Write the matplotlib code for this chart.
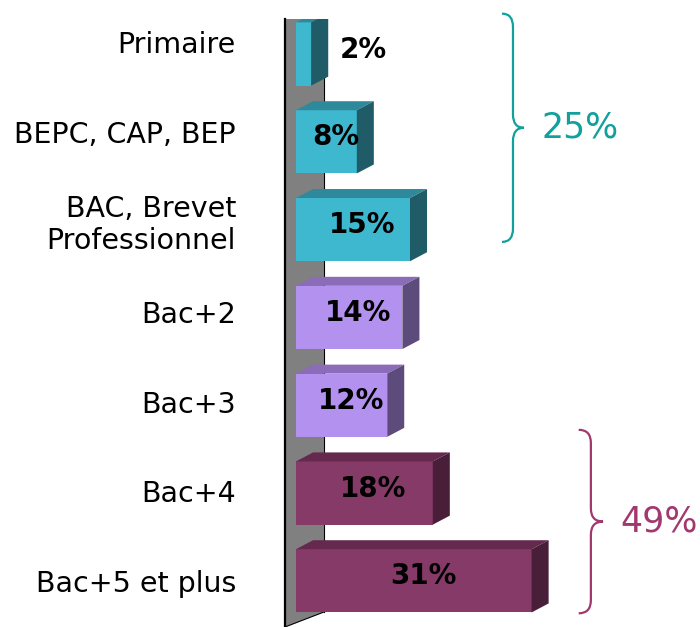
import matplotlib
matplotlib.use("Agg")
import matplotlib.pyplot as plt
from matplotlib.patches import Polygon, PathPatch
from matplotlib.path import Path

# Données du graphique
categories = ["Primaire", "BEPC, CAP, BEP", "BAC, Brevet\nProfessionnel",
              "Bac+2", "Bac+3", "Bac+4", "Bac+5 et plus"]
valeurs = [2, 8, 15, 14, 12, 18, 31]
groupes_couleur = [0, 0, 0, 1, 1, 2, 2]

# groupes marqués par une accolade (indices des catégories)
accolade_groupes = [[0, 1, 2], [5, 6]]

# couleurs : face avant, dessus, côté
faces = [
    ("#3eb8cf", "#2e8a9b", "#1f5c67"),
    ("#b391ee", "#8a6cb8", "#5c4b7b"),
    ("#863a68", "#65294e", "#481e39"),
]
couleurs_accolade = ["#12a09c", "#a3386e"]

# profondeur 3D (en unités de données)
dx = 2.24
dy = -0.1025
h = 0.72

fig = plt.figure(figsize=(7, 6.27), dpi=100)
ax = fig.add_axes([296 / 700, 0, 404 / 700, 608 / 627])
ax.set_xlim(0, 404 / 7.6)
ax.set_ylim(len(valeurs) - 0.474, -0.399)
ax.axis("off")

# le mur gris à gauche
mur_g, mur_d = -1.45, 3.68
haut = -0.399
mur = Polygon([(mur_g, haut), (mur_d, haut), (mur_d, 6.355), (mur_g, 6.526)],
              closed=True, facecolor="#808080", edgecolor="none",
              clip_on=False, zorder=1)
ax.add_patch(mur)
ax.plot([mur_g, mur_g], [haut, 6.526], color="black", lw=1.6, clip_on=False, zorder=2)
ax.plot([mur_d, mur_d], [haut, 6.355], color="black", lw=0.8, clip_on=False, zorder=2)
ax.plot([mur_d, mur_g], [6.355, 6.526], color="black", lw=0.8, clip_on=False, zorder=2)

# barres en 3D
y = list(range(len(valeurs)))
avant = [faces[g][0] for g in groupes_couleur]
ax.barh(y, valeurs, height=h, left=0, color=avant, zorder=3)

for i, v in enumerate(valeurs):
    g = groupes_couleur[i]
    haut_barre = i - h / 2
    bas_barre = i + h / 2
    dessus = Polygon([(0, haut_barre), (v, haut_barre), (v + dx, haut_barre + dy),
                      (dx, haut_barre + dy)], closed=True,
                     facecolor=faces[g][1], edgecolor="none", zorder=3)
    cote = Polygon([(v, haut_barre), (v + dx, haut_barre + dy), (v + dx, bas_barre + dy),
                    (v, bas_barre)], closed=True,
                   facecolor=faces[g][2], edgecolor="none", zorder=3)
    ax.add_patch(dessus)
    ax.add_patch(cote)

    # étiquette de valeur
    if v < 5:
        xt = v + 6.8
    else:
        xt = v / 2 + 1.2
    ax.text(xt, i - 0.05, f"{v}%", ha="center", va="center", fontsize=20,
            fontweight="bold", color="black", zorder=5)

# noms des catégories
for i, nom in enumerate(categories):
    ax.text(-7.9, -0.1 + i * 1.023, nom, ha="right", va="center", fontsize=20.5,
            color="black", clip_on=False, linespacing=1.2)


# accolade droite
def accolade(ax, x, y0, y1, w, r, couleur):
    ym = (y0 + y1) / 2
    xm = x + w / 2
    verts = [
        (x, y0), (xm, y0), (xm, y0 + r),
        (xm, ym - r),
        (xm, ym), (x + w, ym),
        (xm, ym), (xm, ym + r),
        (xm, y1 - r),
        (xm, y1), (x, y1),
    ]
    codes = [Path.MOVETO, Path.CURVE3, Path.CURVE3, Path.LINETO,
             Path.CURVE3, Path.CURVE3, Path.CURVE3, Path.CURVE3,
             Path.LINETO, Path.CURVE3, Path.CURVE3]
    patch = PathPatch(Path(verts, codes), facecolor="none", edgecolor=couleur,
                      lw=1.6, clip_on=False, zorder=4)
    ax.add_patch(patch)
    return ym


positions_accolade = [(27.1, -0.46, 2.14, 2.9), (37.2, 4.28, 6.37, 3.2)]
for k, membres in enumerate(accolade_groupes):
    x0, y0, y1, w = positions_accolade[k]
    ym = accolade(ax, x0, y0, y1, w, 0.15, couleurs_accolade[k])
    total = sum(valeurs[j] for j in membres)
    ax.text(x0 + w + 2.3, ym, f"{total}%", ha="left", va="center", fontsize=25,
            color=couleurs_accolade[k], clip_on=False)

fig.savefig("out.png", dpi=100)
